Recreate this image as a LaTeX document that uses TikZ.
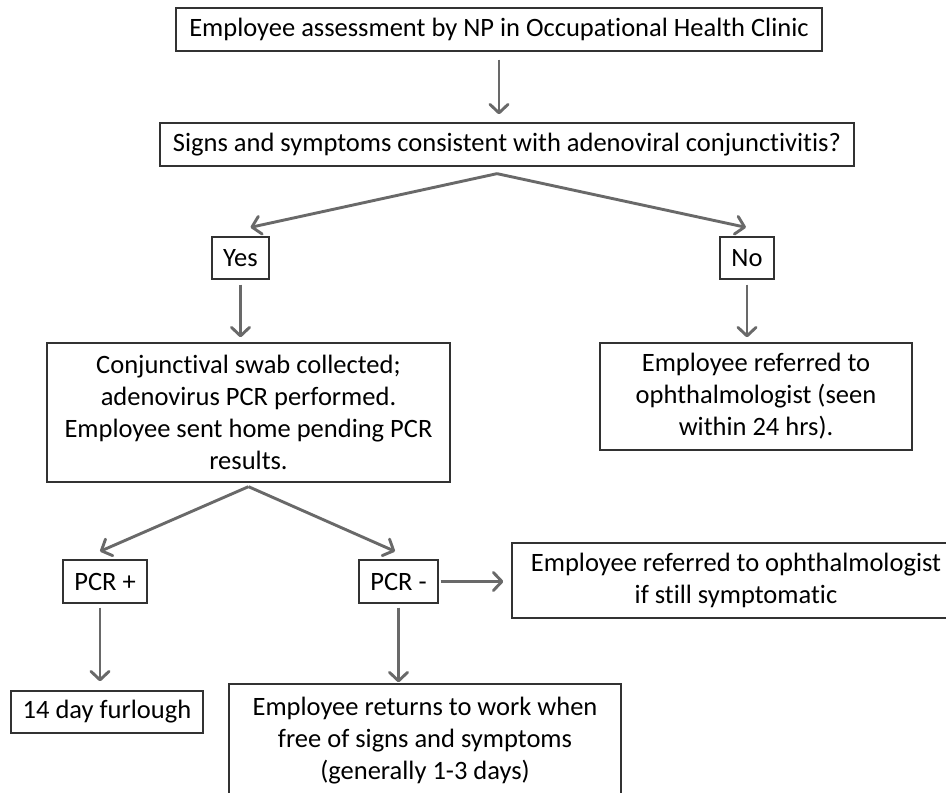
\documentclass[tikz,border=0pt]{standalone}
\usepackage{fontspec}
\setmainfont[Ligatures={NoCommon}]{Carlito}
\usetikzlibrary{arrows.meta,calc}
\definecolor{arrgray}{RGB}{105,105,105}
\definecolor{boxline}{RGB}{50,50,50}
\tikzset{
  box/.style={draw=boxline, line width=1.3pt, inner sep=0pt, align=center,
    font=\fontsize{26.5}{32}\selectfont, text=black},
  arr/.style={draw=arrgray, line width=2.9pt,
    -{Straight Barb[length=8.5pt,width=18pt,line width=2.9pt,round]}},
}
\begin{document}
\begin{tikzpicture}[x=1pt,y=-1pt]
\useasboundingbox (0,0) rectangle (946,793);
\clip (0,0) rectangle (946,793);
\fill[white] (0,0) rectangle (946,793);

\node[box, minimum width=646, minimum height=43] (assess) at (499,29.5)
  {Employee assessment by NP in Occupational Health Clinic};
\node[box, minimum width=694, minimum height=43] (signs) at (507,144.5)
  {Signs and symptoms consistent with adenoviral conjunctivitis?};
\node[box, minimum width=57, minimum height=42] (yes) at (240.5,258) {Yes};
\node[box, minimum width=54, minimum height=42] (no) at (747,258) {No};
\node[box, minimum width=403, minimum height=139] (conj) at (248.5,412.5)
  {Conjunctival swab collected;\\adenovirus PCR performed.\\Employee sent home pending PCR\\results.};
\node[box, minimum width=312, minimum height=107] (ref) at (756,396.5)
  {Employee referred to\\ophthalmologist (seen\\within 24 hrs).};
\node[box, minimum width=84, minimum height=43] (pcrp) at (105,581.5) {PCR +};
\node[box, minimum width=79, minimum height=43] (pcrm) at (398.5,581.5) {PCR -};
\node[box, minimum width=448, minimum height=75] (ref2) at (736,580.5)
  {Employee referred to ophthalmologist\\if still symptomatic};
\node[box, minimum width=192, minimum height=42] (day) at (107,712) {14 day furlough};
\node[box, minimum width=392, minimum height=114] (ret) at (425,741)
  {Employee returns to work when\\free of signs and symptoms\\(generally 1-3 days)};

% connectors
\draw[arr, shorten <=8pt, shorten >=8pt] (assess.south) -- (assess.south |- signs.north);
\coordinate (apex1) at ($(signs.south)+(-10,7)$);
\draw[arr] (apex1) -- ($(yes.north)+(10,-9)$);
\draw[arr] (apex1) -- ($(no.north)+(-1,-9)$);
\draw[arr, shorten <=5pt, shorten >=5pt] (yes.south) -- (yes.south |- conj.north);
\draw[arr, shorten <=5pt, shorten >=5pt] (no.south) -- (no.south |- ref.north);
\coordinate (apex2) at ($(conj.south)+(0,4)$);
\draw[arr] (apex2) -- ($(pcrp.north)+(-5,-8)$);
\draw[arr] (apex2) -- ($(pcrm.north)+(-3.5,-8)$);
\draw[arr] ($(pcrp.south)+(-5,4)$) -- ($(day.north)+(-7,-9)$);
\draw[arr, shorten <=4pt, shorten >=1pt] (pcrm.south) -- (pcrm.south |- ret.north);
\draw[arr, shorten <=2pt, shorten >=8pt] (pcrm.east) -- (pcrm.east -| ref2.west);
\end{tikzpicture}
\end{document}
